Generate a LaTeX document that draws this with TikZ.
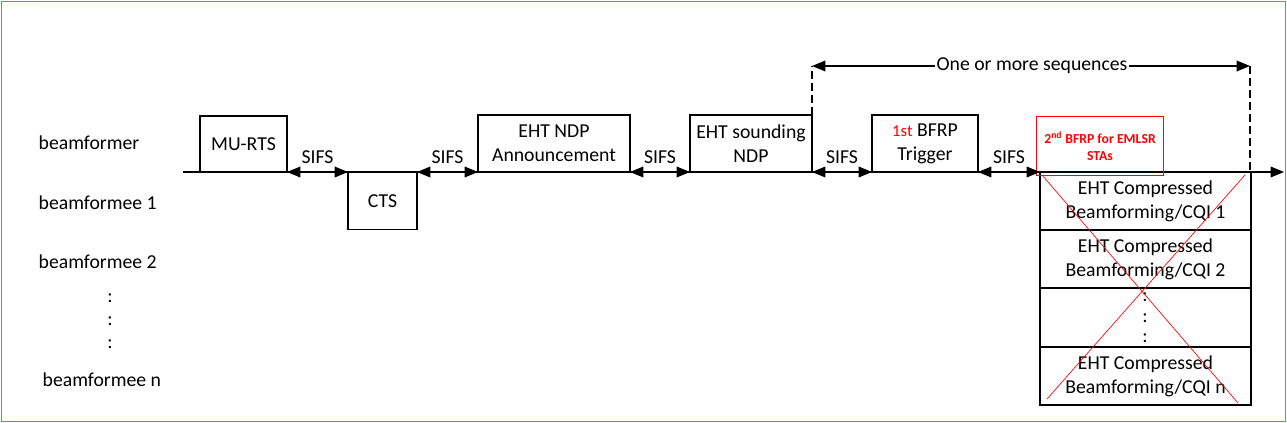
\documentclass[tikz,border=0pt]{standalone}
\usepackage{fontspec}
\setmainfont{Carlito}
\usetikzlibrary{arrows.meta}
\definecolor{frame}{HTML}{E06060}
\definecolor{redtxt}{HTML}{FF0000}
\begin{document}
\begin{tikzpicture}[x=0.75pt,y=-0.75pt,
  box/.style={draw,line width=1pt,inner sep=0pt,outer sep=0pt,align=center,font=\fontsize{14.8}{18}\selectfont},
  lbl/.style={inner sep=0pt,font=\fontsize{14.8}{17}\selectfont},
  tip/.style={-{Triangle[length=10pt,width=8pt]}},
  dtip/.style={{Triangle[length=10pt,width=8pt]}-{Triangle[length=10pt,width=8pt]}},
  line width=1pt]
\useasboundingbox (0,0) rectangle (1287,423);
\draw[frame,line width=1pt] (1.5,1.5) rectangle (1285.5,421.5);
% left labels
\node[lbl,anchor=west] (bf) at (38,143) {beamformer};
\node[lbl,anchor=west] (be1) at (38,203) {beamformee 1};
\node[lbl,anchor=west] (be2) at (38,262) {beamformee 2};
\node[lbl] (ld1) at (110,298) {:};
\node[lbl] (ld2) at (110,321) {:};
\node[lbl] (ld3) at (110,344) {:};
\node[lbl,anchor=west] (ben) at (42,380) {beamformee n};
% timeline
\coordinate (t0) at (183,172);
\coordinate (t1) at (1284,172);
\draw[tip] (t0) -- (t1);
% boxes
\node[box,minimum width=65.25pt,minimum height=42pt] (murts) at (243.5,144) {MU-RTS};
\node[box,minimum width=51.75pt,minimum height=43pt] (cts) at (382.5,200.7) {CTS};
\node[box,minimum width=114pt,minimum height=42.75pt] (ndpa) at (554,143.5) {EHT NDP\\Announcement};
\node[box,minimum width=91.5pt,minimum height=42.75pt] (snd) at (751,143.5) {EHT sounding\\NDP};
\node[box,minimum width=79.5pt,minimum height=42.75pt] (bfrp) at (925,143.5) {{\color{redtxt}\fontsize{12.5}{12}\selectfont 1st} BFRP\\Trigger};
\node[box,minimum width=158.25pt,minimum height=43.5pt] (r1) at (1145.5,201) {EHT Compressed\\Beamforming/CQI 1};
\node[box,minimum width=158.25pt,minimum height=43.5pt] (r2) at (1145.5,259) {EHT Compressed\\Beamforming/CQI 2};
\node[box,minimum width=158.25pt,minimum height=44.25pt] (r3) at (1145.5,317.5) {};
\node[box,minimum width=158.25pt,minimum height=43.5pt] (r4) at (1145.5,376) {EHT Compressed\\Beamforming/CQI n};
\node[lbl] (sd1) at (1145,297) {:};
\node[lbl] (sd2) at (1145,318) {:};
\node[lbl] (sd3) at (1145,338) {:};
\node[draw=redtxt,line width=0.9pt,text=redtxt,inner sep=0pt,outer sep=0pt,minimum width=95.25pt,minimum height=44.25pt,align=center,font=\bfseries\fontsize{10.3}{13}\selectfont] (bfrp2) at (1100,146) {2\textsuperscript{nd} BFRP for EMLSR\\STAs};
% SIFS
\draw[dtip] (murts.south east) -- node[lbl,above=6pt] (s1) {SIFS} (cts.north west);
\draw[dtip] (cts.north east) -- node[lbl,above=6pt] (s2) {SIFS} (ndpa.south west);
\draw[dtip] (ndpa.south east) -- node[lbl,above=6pt] (s3) {SIFS} (snd.south west);
\draw[dtip] (snd.south east) -- node[lbl,above=6pt] (s4) {SIFS} (bfrp.south west);
\draw[dtip] (bfrp.south east) -- node[lbl,above=6pt] (s5) {SIFS} (r1.north west);
% sequences
\coordinate (qL) at (812,66);
\coordinate (qR) at (1250,66);
\coordinate (qRb) at (1250,172);
\draw[dash pattern=on 6pt off 3pt] (snd.north east) -- (qL);
\draw[dash pattern=on 6pt off 3pt] (qR) -- (qRb);
\node[lbl,fill=white,inner sep=1pt] (seq) at (1032,66) {One or more sequences};
\draw[tip] (seq.west) -- (qL);
\draw[tip] (seq.east) -- (qR);
% red cross
\coordinate (x1) at (1042,175);
\coordinate (x2) at (1238,403);
\coordinate (x3) at (1245,175);
\coordinate (x4) at (1047,399);
\draw[redtxt,line width=0.5pt] (x1) -- (x2);
\draw[redtxt,line width=0.5pt] (x3) -- (x4);
\end{tikzpicture}
\end{document}
